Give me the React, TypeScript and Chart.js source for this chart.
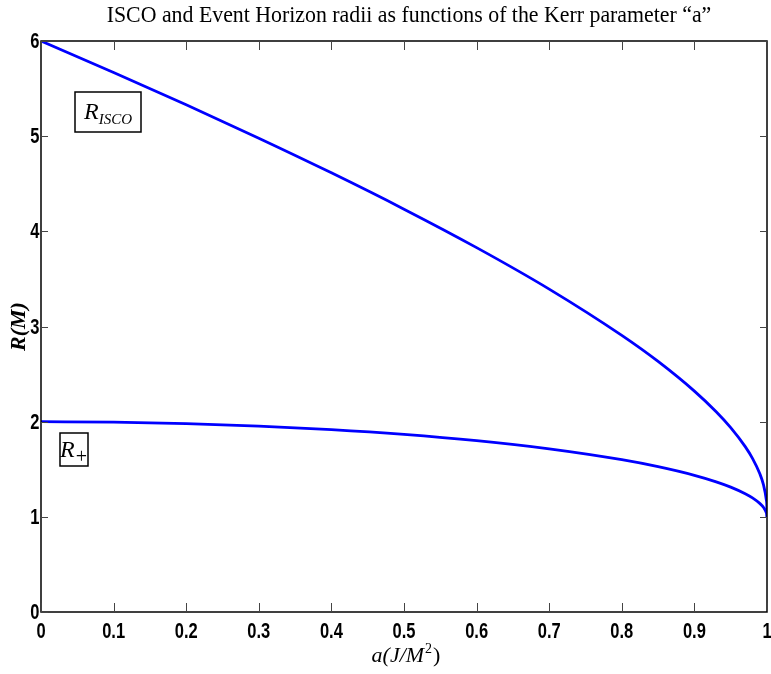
import React, { useEffect, useRef } from "react";
import { Chart, registerables } from "chart.js";

Chart.register(...registerables);

const TITLE = "ISCO and Event Horizon radii as functions of the Kerr parameter \u201ca\u201d";

// Kerr spin parameter a (J/M^2)
const spinA = [0, 0.1, 0.2, 0.3, 0.4, 0.5, 0.6, 0.7, 0.8, 0.85, 0.9, 0.93, 0.95, 0.97, 0.98, 0.99, 0.995, 0.999, 0.9999, 1];
// ISCO radius (prograde), in M
const rIsco = [6, 5.6695, 5.3294, 4.9785, 4.6144, 4.233, 3.829, 3.3931, 2.9066, 2.6328, 2.3209, 2.1039, 1.937, 1.7376, 1.614, 1.4545, 1.341, 1.1818, 1.0785, 1.0];
// Event horizon radius R+, in M
const rPlus = [2, 1.995, 1.9798, 1.9539, 1.9165, 1.866, 1.8, 1.7141, 1.6, 1.5268, 1.4359, 1.3676, 1.3122, 1.2431, 1.199, 1.1411, 1.0999, 1.0447, 1.0141, 1.0];

const xTicks = [0, 0.1, 0.2, 0.3, 0.4, 0.5, 0.6, 0.7, 0.8, 0.9, 1];
const xTickLabels = ["0", "0.1", "0.2", "0.3", "0.4", "0.5", "0.6", "0.7", "0.8", "0.9", "1"];
const yTicks = [0, 1, 2, 3, 4, 5, 6];
const yTickLabels = ["0", "1", "2", "3", "4", "5", "6"];

const SERIF = "'Liberation Serif', 'DejaVu Serif', serif";
const SANS = "'Liberation Sans', Arial, sans-serif";

// draw horizontally condensed text
function condText(ctx: any, text: string, x: number, y: number, sx: number, align: "left" | "center" | "right") {
  const w = ctx.measureText(text).width * sx;
  let left = x;
  if (align === "center") left = x - w / 2;
  else if (align === "right") left = x - w;
  ctx.save();
  ctx.textAlign = "left";
  ctx.translate(left, y);
  ctx.scale(sx, 1);
  ctx.fillText(text, 0, 0);
  ctx.restore();
}

const decorPlugin = {
  id: "decor",
  afterDraw(chart: any) {
    const { ctx, chartArea: ca, scales } = chart;
    const xs = scales.x;
    const ys = scales.y;
    ctx.save();
    // frame
    ctx.strokeStyle = "#000";
    ctx.lineWidth = 1.5;
    ctx.strokeRect(ca.left, ca.top, ca.right - ca.left, ca.bottom - ca.top);
    // inward ticks
    ctx.lineWidth = 1;
    ctx.strokeStyle = "#444";
    const tlx = 9;
    const tly = 7;
    xTicks.forEach((v) => {
      const px = Math.round(xs.getPixelForValue(v)) + 0.5;
      ctx.beginPath();
      ctx.moveTo(px, ca.bottom);
      ctx.lineTo(px, ca.bottom - tlx);
      ctx.moveTo(px, ca.top);
      ctx.lineTo(px, ca.top + tlx);
      ctx.stroke();
    });
    yTicks.forEach((v) => {
      const py = Math.round(ys.getPixelForValue(v)) + 0.5;
      ctx.beginPath();
      ctx.moveTo(ca.left, py);
      ctx.lineTo(ca.left + tly, py);
      ctx.moveTo(ca.right, py);
      ctx.lineTo(ca.right - tly, py);
      ctx.stroke();
    });

    // tick labels
    ctx.fillStyle = "#000";
    ctx.font = `bold 22px ${SANS}`;
    ctx.textBaseline = "middle";
    xTicks.forEach((v, i) => {
      const px = xs.getPixelForValue(v);
      condText(ctx, xTickLabels[i], px, ca.bottom + 20, 0.75, "center");
    });
    yTicks.forEach((v, i) => {
      const py = ys.getPixelForValue(v);
      condText(ctx, yTickLabels[i], ca.left - 1.5, py + 1, 0.75, "right");
    });

    // title
    ctx.textBaseline = "alphabetic";
    ctx.font = `24px ${SERIF}`;
    condText(ctx, TITLE, 409, 22, 0.91, "center");

    // x axis title a(J/M^2)
    const xMid = 406;
    const yX = 662;
    ctx.textAlign = "left";
    const p1 = "a(J/M";
    const p2 = "2";
    const p3 = ")";
    ctx.font = `italic 22px ${SERIF}`;
    const w1 = ctx.measureText(p1).width;
    ctx.font = `14px ${SERIF}`;
    const w2 = ctx.measureText(p2).width;
    ctx.font = `22px ${SERIF}`;
    const w3 = ctx.measureText(p3).width;
    let sx = xMid - (w1 + w2 + w3 + 2) / 2;
    ctx.font = `italic 22px ${SERIF}`;
    ctx.fillText(p1, sx, yX);
    sx += w1 + 1;
    ctx.font = `14px ${SERIF}`;
    ctx.fillText(p2, sx, yX - 9);
    sx += w2 + 1;
    ctx.font = `22px ${SERIF}`;
    ctx.fillText(p3, sx, yX);

    // y axis title R(M)
    ctx.save();
    ctx.translate(19, (ca.top + ca.bottom) / 2);
    ctx.rotate(-Math.PI / 2);
    ctx.textAlign = "center";
    ctx.textBaseline = "middle";
    ctx.font = `bold italic 22px ${SERIF}`;
    ctx.fillText("R(M)", 0, 0);
    ctx.restore();

    // label boxes
    const box = (x: number, y: number, w: number, h: number, main: string, sub: string, subSize: number, subDrop: number) => {
      ctx.fillStyle = "#fff";
      ctx.fillRect(x, y, w, h);
      ctx.strokeStyle = "#000";
      ctx.lineWidth = 1.5;
      ctx.strokeRect(x, y, w, h);
      ctx.fillStyle = "#000";
      ctx.textAlign = "left";
      ctx.textBaseline = "alphabetic";
      ctx.font = `italic 24px ${SERIF}`;
      const mw = ctx.measureText(main).width;
      ctx.font = `italic ${subSize}px ${SERIF}`;
      const sw = ctx.measureText(sub).width;
      const tx = x + (w - mw - sw) / 2;
      ctx.font = `italic 24px ${SERIF}`;
      ctx.fillText(main, tx, y + h / 2 + 7);
      ctx.font = `italic ${subSize}px ${SERIF}`;
      ctx.fillText(sub, tx + mw, y + h / 2 + 7 + subDrop);
    };
    box(75, 92, 66, 40, "R", "ISCO", 15, 5);
    box(60, 433, 28, 33, "R", "+", 20, 6);
    ctx.restore();
  },
};

export default function App() {
  const ref = useRef<HTMLCanvasElement | null>(null);
  useEffect(() => {
    if (!ref.current) return;
    const chart = new Chart(ref.current, {
      type: "line",
      data: {
        datasets: [
          {
            label: "R_ISCO",
            data: spinA.map((a, i) => ({ x: a, y: rIsco[i] })),
            borderColor: "#0000ff",
            borderWidth: 2.8,
            pointRadius: 0,
            cubicInterpolationMode: "monotone",
            fill: false,
          },
          {
            label: "R+",
            data: spinA.map((a, i) => ({ x: a, y: rPlus[i] })),
            borderColor: "#0000ff",
            borderWidth: 2.8,
            pointRadius: 0,
            cubicInterpolationMode: "monotone",
            fill: false,
          },
        ],
      },
      options: {
        responsive: false,
        animation: false,
        layout: { padding: { left: 0, top: 41, right: 4, bottom: 0 } },
        plugins: {
          legend: { display: false },
          title: { display: false },
          tooltip: { enabled: false },
        },
        scales: {
          x: {
            type: "linear",
            min: 0,
            max: 1,
            afterBuildTicks: (s: any) => {
              s.ticks = xTicks.map((v) => ({ value: v }));
            },
            afterFit: (s: any) => {
              s.height = 62;
              s.paddingLeft = 0;
              s.paddingRight = 0;
            },
            grid: { display: false, drawTicks: false },
            border: { display: false },
            ticks: { display: false },
          },
          y: {
            type: "linear",
            min: 0,
            max: 6,
            afterBuildTicks: (s: any) => {
              s.ticks = yTicks.map((v) => ({ value: v }));
            },
            afterFit: (s: any) => {
              s.width = 41;
              s.paddingTop = 0;
              s.paddingBottom = 0;
            },
            grid: { display: false, drawTicks: false },
            border: { display: false },
            ticks: { display: false },
          },
        },
      },
      plugins: [decorPlugin],
    } as any);
    return () => chart.destroy();
  }, []);
  return (
    <div style={{ position: "fixed", left: 0, top: 0, width: 771, height: 674, background: "#fff" }}>
      <canvas ref={ref} width={771} height={674} style={{ display: "block" }} />
    </div>
  );
}
